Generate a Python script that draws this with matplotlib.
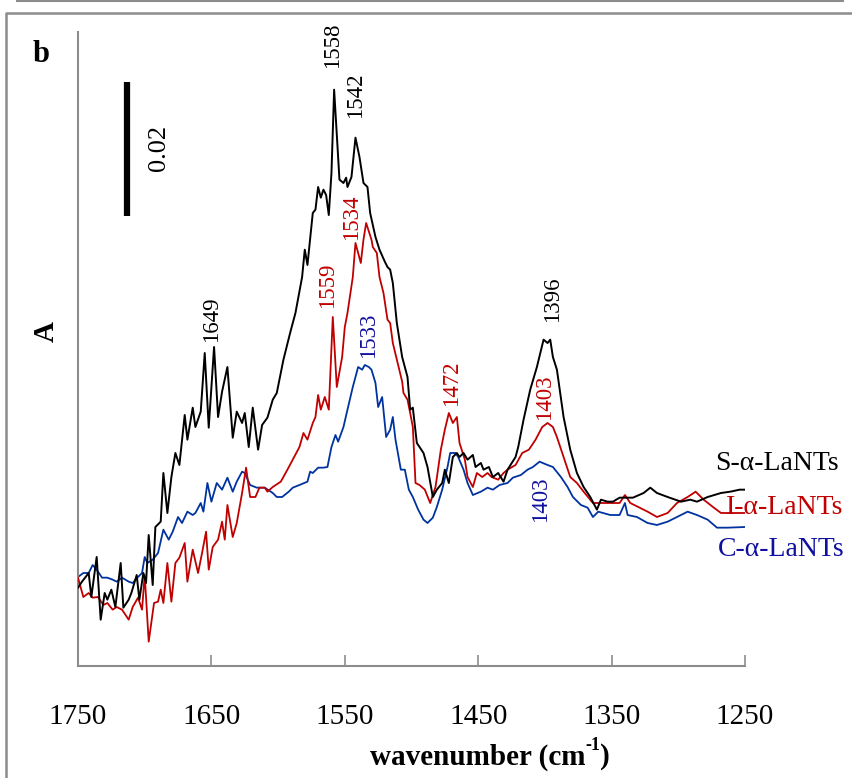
import matplotlib
matplotlib.use("Agg")
import matplotlib.pyplot as plt
from matplotlib.lines import Line2D

# spettri FTIR (numero d'onda in cm-1, assorbanza)
wn_s = [1750, 1747, 1742, 1740, 1736, 1733, 1730, 1728, 1725, 1722,
        1718, 1716, 1712, 1710, 1706, 1704, 1701, 1699, 1697, 1694,
        1692, 1688, 1686, 1683, 1680, 1677, 1674, 1670, 1668, 1664,
        1662, 1658, 1655, 1652, 1648, 1645, 1642, 1638, 1634, 1631,
        1627, 1625, 1622, 1619, 1615, 1612, 1608, 1604, 1601, 1596,
        1591, 1587, 1582, 1580, 1578, 1574, 1572, 1570, 1568, 1566,
        1564, 1562, 1560, 1558, 1555, 1554, 1551, 1549, 1548, 1545,
        1542, 1539, 1536, 1533, 1531, 1527, 1524, 1520, 1518, 1516,
        1514, 1511, 1507, 1503, 1501, 1499, 1496, 1494, 1491, 1488,
        1484, 1481, 1477, 1475, 1472, 1469, 1466, 1464, 1461, 1458,
        1454, 1452, 1448, 1446, 1442, 1439, 1435, 1431, 1428, 1422,
        1420, 1416, 1411, 1406, 1401, 1398, 1396, 1394, 1391, 1386,
        1381, 1376, 1371, 1366, 1361, 1358, 1353, 1349, 1344, 1334,
        1326, 1321, 1316, 1308, 1298, 1291, 1286, 1278, 1268, 1261,
        1254, 1250]
abs_s = [0.0116, 0.0125, 0.0138, 0.0102, 0.0162, 0.0068, 0.0108, 0.0098, 0.0113, 0.0087,
         0.0153, 0.0086, 0.0098, 0.0108, 0.0135, 0.0098, 0.0138, 0.0123, 0.0195, 0.0120,
         0.0207, 0.0215, 0.0288, 0.0228, 0.0282, 0.0318, 0.0300, 0.0375, 0.0338, 0.0386,
         0.0357, 0.0380, 0.0468, 0.0356, 0.0477, 0.0372, 0.0410, 0.0447, 0.0341, 0.0380,
         0.0363, 0.0378, 0.0327, 0.0386, 0.0323, 0.0360, 0.0371, 0.0398, 0.0408, 0.0458,
         0.0498, 0.0528, 0.0582, 0.0623, 0.0600, 0.0678, 0.0683, 0.0717, 0.0701, 0.0713,
         0.0705, 0.0675, 0.0738, 0.0863, 0.0762, 0.0728, 0.0723, 0.0731, 0.0717, 0.0732,
         0.0791, 0.0762, 0.0723, 0.0717, 0.0678, 0.0642, 0.0623, 0.0605, 0.0597, 0.0593,
         0.0573, 0.0513, 0.0462, 0.0432, 0.0383, 0.0386, 0.0333, 0.0327, 0.0318, 0.0297,
         0.0252, 0.0263, 0.0273, 0.0293, 0.0273, 0.0312, 0.0318, 0.0312, 0.0318, 0.0308,
         0.0315, 0.0297, 0.0303, 0.0293, 0.0297, 0.0282, 0.0288, 0.0275, 0.0293, 0.0312,
         0.0327, 0.0368, 0.0413, 0.0447, 0.0488, 0.0483, 0.0488, 0.0462, 0.0443, 0.0372,
         0.0323, 0.0288, 0.0267, 0.0252, 0.0233, 0.0248, 0.0245, 0.0245, 0.0251, 0.0251,
         0.0258, 0.0266, 0.0258, 0.0252, 0.0245, 0.0248, 0.0245, 0.0252, 0.0258, 0.0260,
         0.0263, 0.0263]

wn_i = [1750, 1746, 1742, 1739, 1735, 1731, 1728, 1724, 1721, 1717,
        1712, 1709, 1705, 1702, 1700, 1697, 1693, 1690, 1688, 1686,
        1683, 1680, 1677, 1674, 1670, 1668, 1664, 1660, 1657, 1654,
        1652, 1649, 1645, 1642, 1640, 1638, 1634, 1631, 1627, 1624,
        1621, 1617, 1614, 1610, 1608, 1604, 1598, 1593, 1589, 1584,
        1581, 1578, 1574, 1572, 1570, 1568, 1565, 1562, 1559, 1556,
        1552, 1550, 1548, 1544, 1542, 1538, 1536, 1534, 1530, 1529,
        1526, 1524, 1521, 1518, 1516, 1514, 1511, 1507, 1506, 1503,
        1501, 1499, 1497, 1494, 1490, 1486, 1482, 1478, 1475, 1472,
        1469, 1466, 1464, 1460, 1458, 1454, 1451, 1447, 1443, 1440,
        1435, 1431, 1428, 1422, 1417, 1412, 1407, 1402, 1398, 1394,
        1391, 1386, 1381, 1376, 1371, 1364, 1361, 1353, 1344, 1340,
        1336, 1330, 1323, 1316, 1308, 1301, 1293, 1287, 1281, 1274,
        1268, 1261, 1250]
abs_i = [0.0131, 0.0102, 0.0108, 0.0101, 0.0102, 0.0090, 0.0093, 0.0083, 0.0087, 0.0083,
         0.0068, 0.0087, 0.0101, 0.0083, 0.0135, 0.0035, 0.0093, 0.0095, 0.0113, 0.0093,
         0.0153, 0.0095, 0.0153, 0.0161, 0.0183, 0.0125, 0.0173, 0.0138, 0.0168, 0.0200,
         0.0143, 0.0177, 0.0188, 0.0215, 0.0188, 0.0240, 0.0192, 0.0213, 0.0258, 0.0296,
         0.0252, 0.0252, 0.0266, 0.0266, 0.0260, 0.0267, 0.0275, 0.0293, 0.0308, 0.0327,
         0.0348, 0.0338, 0.0363, 0.0372, 0.0405, 0.0383, 0.0402, 0.0383, 0.0522, 0.0417,
         0.0462, 0.0507, 0.0528, 0.0582, 0.0633, 0.0603, 0.0638, 0.0663, 0.0638, 0.0627,
         0.0618, 0.0582, 0.0558, 0.0518, 0.0513, 0.0483, 0.0458, 0.0425, 0.0408, 0.0398,
         0.0378, 0.0357, 0.0273, 0.0270, 0.0263, 0.0243, 0.0267, 0.0323, 0.0353, 0.0378,
         0.0363, 0.0372, 0.0333, 0.0308, 0.0282, 0.0267, 0.0288, 0.0282, 0.0288, 0.0282,
         0.0278, 0.0288, 0.0293, 0.0300, 0.0318, 0.0323, 0.0338, 0.0357, 0.0363, 0.0357,
         0.0342, 0.0312, 0.0282, 0.0273, 0.0260, 0.0243, 0.0243, 0.0243, 0.0243, 0.0255,
         0.0243, 0.0237, 0.0230, 0.0222, 0.0228, 0.0243, 0.0252, 0.0260, 0.0248, 0.0237,
         0.0228, 0.0228, 0.0228]

wn_c = [1750, 1746, 1742, 1739, 1736, 1732, 1728, 1724, 1721, 1717,
        1712, 1709, 1705, 1702, 1700, 1698, 1694, 1690, 1686, 1682,
        1679, 1675, 1672, 1668, 1664, 1662, 1658, 1656, 1653, 1650,
        1646, 1642, 1638, 1634, 1631, 1627, 1625, 1621, 1616, 1610,
        1604, 1601, 1597, 1592, 1589, 1584, 1578, 1576, 1574, 1570,
        1566, 1563, 1560, 1557, 1555, 1551, 1548, 1544, 1540, 1537,
        1535, 1532, 1530, 1527, 1525, 1522, 1519, 1516, 1514, 1512,
        1508, 1505, 1502, 1499, 1495, 1491, 1488, 1484, 1481, 1477,
        1473, 1471, 1467, 1465, 1461, 1458, 1454, 1448, 1443, 1439,
        1434, 1428, 1424, 1418, 1413, 1409, 1404, 1398, 1394, 1388,
        1383, 1379, 1373, 1368, 1364, 1360, 1351, 1344, 1340, 1338,
        1331, 1323, 1316, 1308, 1301, 1293, 1286, 1278, 1271, 1263,
        1250]
abs_c = [0.0132, 0.0138, 0.0138, 0.0150, 0.0143, 0.0131, 0.0131, 0.0128, 0.0125, 0.0131,
         0.0125, 0.0123, 0.0132, 0.0138, 0.0162, 0.0153, 0.0158, 0.0168, 0.0203, 0.0188,
         0.0200, 0.0222, 0.0213, 0.0230, 0.0225, 0.0228, 0.0243, 0.0230, 0.0273, 0.0245,
         0.0273, 0.0263, 0.0281, 0.0260, 0.0275, 0.0290, 0.0288, 0.0270, 0.0266, 0.0266,
         0.0258, 0.0252, 0.0252, 0.0260, 0.0266, 0.0270, 0.0275, 0.0290, 0.0288, 0.0296,
         0.0296, 0.0297, 0.0327, 0.0345, 0.0335, 0.0357, 0.0383, 0.0417, 0.0447, 0.0443,
         0.0450, 0.0447, 0.0443, 0.0423, 0.0387, 0.0402, 0.0342, 0.0353, 0.0372, 0.0338,
         0.0293, 0.0293, 0.0263, 0.0252, 0.0233, 0.0218, 0.0213, 0.0221, 0.0237, 0.0263,
         0.0297, 0.0318, 0.0318, 0.0312, 0.0293, 0.0273, 0.0255, 0.0260, 0.0266, 0.0263,
         0.0270, 0.0273, 0.0281, 0.0285, 0.0293, 0.0297, 0.0305, 0.0300, 0.0297, 0.0282,
         0.0267, 0.0252, 0.0240, 0.0236, 0.0222, 0.0230, 0.0225, 0.0225, 0.0243, 0.0225,
         0.0222, 0.0213, 0.0210, 0.0215, 0.0222, 0.0230, 0.0225, 0.0218, 0.0206, 0.0206,
         0.0207]

nomi = ['S-\u03b1-LaNTs', 'I-\u03b1-LaNTs', 'C-\u03b1-LaNTs']
colori = ['black', '#C00000', '#0033A0']
colori_testo = ['black', '#C00000', '#1010A0']

# etichette dei picchi: testo, numero d'onda, assorbanza, colore
picchi = [('1558', 1559, 0.0930, 'black'),
          ('1542', 1542, 0.0855, 'black'),
          ('1649', 1650, 0.0518, 'black'),
          ('1396', 1394, 0.0548, 'black'),
          ('1534', 1545, 0.0672, '#C00000'),
          ('1559', 1563, 0.0569, '#C00000'),
          ('1472', 1470, 0.0423, '#C00000'),
          ('1403', 1400, 0.0402, '#C00000'),
          ('1533', 1532, 0.0495, '#1010A0'),
          ('1403', 1403, 0.0248, '#1010A0')]

scala = 0.02
xticks = [1750, 1650, 1550, 1450, 1350, 1250]

plt.rcParams['font.family'] = ['Liberation Serif', 'DejaVu Serif']

W, H = 853, 778
fig = plt.figure(figsize=(W / 100, H / 100), dpi=100)
ax = fig.add_axes([78 / W, 1 - 666 / H, (745 - 78) / W, (666 - 32) / H])

grigio = '#8c8c8c'
ax.plot(wn_c, abs_c, color=colori[2], lw=1.3, zorder=2)
ax.plot(wn_i, abs_i, color=colori[1], lw=1.3, zorder=3)
ax.plot(wn_s, abs_s, color=colori[0], lw=1.4, zorder=4)

ax.set_xlim(1750, 1250)
ax.set_ylim(-0.00015, 0.09495)
ax.set_xticks(xticks)
ax.set_yticks([])
ax.tick_params(axis='x', direction='in', length=8, width=1.2, color=grigio,
               labelsize=21, pad=27)
for lato in ['top', 'right']:
    ax.spines[lato].set_visible(False)
for lato in ['left', 'bottom']:
    ax.spines[lato].set_color(grigio)
    ax.spines[lato].set_linewidth(1.5)

# barra di scala
ax.plot([1713, 1713], [0.0674, 0.0674 + scala], color='black', lw=4.5,
        solid_capstyle='butt')
fig.text(159 / W, 1 - 148 / H, '%.2f' % scala, rotation=90, fontsize=19,
         ha='center', va='center')

for testo, x, y, c in picchi:
    ax.text(x, y, testo, rotation=90, color=c, fontsize=16.5,
            ha='center', va='center', clip_on=False)

pos_nomi = [(1226, 0.0302), (1220, 0.0237), (1223, 0.0173)]
for nome, (x, y), c in zip(nomi, pos_nomi, colori_testo):
    ax.text(x, y, nome, color=c, fontsize=20, ha='center', va='center',
            clip_on=False)

# titolo asse x composto a pezzi per avere "-1" con trattino corto
renderer = fig.canvas.get_renderer()
t1 = fig.text(370 / W, 1 - 757 / H, 'wavenumber (cm', fontsize=21,
              fontweight='bold', ha='left', va='center')
x1 = t1.get_window_extent(renderer).x1
t2 = fig.text(x1 / W, 1 - 745 / H, '-1', fontsize=13,
              fontweight='bold', ha='left', va='center')
x2 = t2.get_window_extent(renderer).x1
fig.text(x2 / W, 1 - 757 / H, ')', fontsize=21, fontweight='bold',
         ha='left', va='center')

fig.text(46 / W, 1 - 332 / H, 'A', rotation=90, fontsize=21,
         fontweight='bold', ha='center', va='center')
fig.text(41 / W, 1 - 55 / H, 'b', fontsize=22, fontweight='bold',
         ha='center', va='center')

# cornice esterna
fig.add_artist(Line2D([17 / W, 843 / W], [1 - 1 / H, 1 - 1 / H],
                      color=grigio, lw=1.5))
fig.add_artist(Line2D([6 / W, 6 / W, 1], [0, 1 - 13 / H, 1 - 13 / H],
                      color=grigio, lw=1.8))

fig.savefig('out.png', dpi=100)
